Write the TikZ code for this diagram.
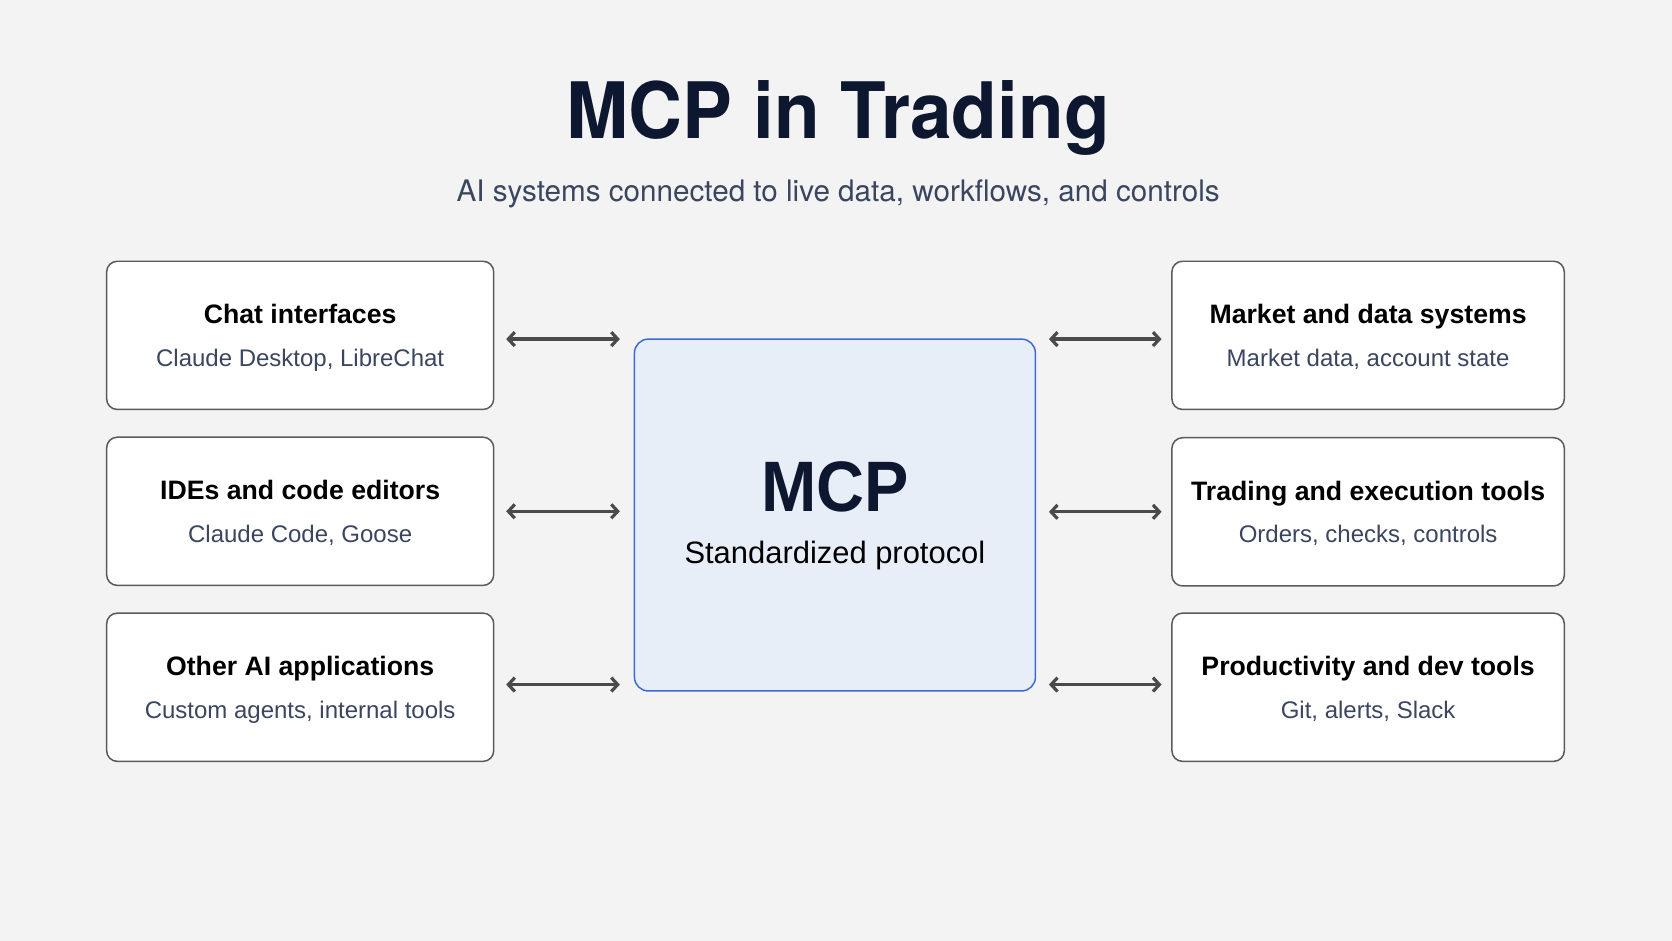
\documentclass[tikz,border=0pt]{standalone}
\usepackage{fontspec}
\setmainfont{Liberation Sans}
\newfontfamily\heros{TeX Gyre Heros}
\usetikzlibrary{arrows.meta}
\definecolor{bgc}{HTML}{F3F3F3}
\definecolor{navy}{HTML}{0E1730}
\definecolor{subc}{HTML}{3A4560}
\definecolor{edgec}{HTML}{5A5A5A}
\definecolor{arrc}{HTML}{4A4A4C}
\definecolor{mcpfill}{HTML}{E8EEF8}
\definecolor{mcpedge}{HTML}{3C6BD6}
\tikzset{
  sidebox/.style={draw=edgec, line width=1.4pt, fill=white, rounded corners=10pt, minimum height=139pt, inner sep=0pt},
  boxtitle/.style={anchor=base, text=black, font=\bfseries\fontsize{25}{30}\selectfont},
  boxsub/.style={anchor=base, text=subc, font=\fontsize{22.5}{27}\selectfont},
  arr/.style={draw=arrc, line width=3pt, {Straight Barb[length=6pt,width=13pt,line width=3pt]}-{Straight Barb[length=6pt,width=13pt,line width=3pt]}},
}
\begin{document}
\begin{tikzpicture}[x=1pt,y=-1pt]
\fill[bgc] (0,0) rectangle (1568,882);
\useasboundingbox (0,0) rectangle (1568,882);
\node[anchor=base, text=navy, xscale=0.96, font=\heros\bfseries\fontsize{73}{80}\selectfont] (title) at (786,130) {MCP in Trading};
\node[anchor=base, text=subc, font=\heros\fontsize{27.8}{32}\selectfont] (subtitle) at (786,189) {AI systems connected to live data, workflows, and controls};

% left boxes
\node[sidebox, minimum width=363pt] (l1) at (281.5,314.5) {};
\node[sidebox, minimum width=363pt] (l2) at (281.5,479.5) {};
\node[sidebox, minimum width=363pt] (l3) at (281.5,644.5) {};
% right boxes
\node[sidebox, minimum width=368pt] (r1) at (1283,314.5) {};
\node[sidebox, minimum width=368pt] (r2) at (1283,480) {};
\node[sidebox, minimum width=368pt] (r3) at (1283,644.5) {};
% centre
\node[draw=mcpedge, line width=1.4pt, fill=mcpfill, rounded corners=13pt, minimum width=376pt, minimum height=330pt, inner sep=0pt] (c) at (783,483) {};
\node[anchor=base, text=navy, xscale=0.93, font=\bfseries\fontsize{67}{72}\selectfont] (ct) at ([yshift=3pt]c.center) {MCP};
\node[anchor=base, text=black, font=\fontsize{29}{34}\selectfont] (cs) at ([yshift=-45pt]c.center) {Standardized protocol};

% texts
\node[boxtitle] (l1t) at ([yshift=11pt]l1.center) {Chat interfaces};
\node[boxsub] (l1s) at ([yshift=-29pt]l1.center) {Claude Desktop, LibreChat};
\node[boxtitle] (l2t) at ([yshift=11pt]l2.center) {IDEs and code editors};
\node[boxsub] (l2s) at ([yshift=-29pt]l2.center) {Claude Code, Goose};
\node[boxtitle] (l3t) at ([yshift=11pt]l3.center) {Other AI applications};
\node[boxsub] (l3s) at ([yshift=-29pt]l3.center) {Custom agents, internal tools};
\node[boxtitle] (r1t) at ([yshift=11pt]r1.center) {Market and data systems};
\node[boxsub] (r1s) at ([yshift=-29pt]r1.center) {Market data, account state};
\node[boxtitle] (r2t) at ([yshift=11pt]r2.center) {Trading and execution tools};
\node[boxsub] (r2s) at ([yshift=-29pt]r2.center) {Orders, checks, controls};
\node[boxtitle] (r3t) at ([yshift=11pt]r3.center) {Productivity and dev tools};
\node[boxsub] (r3s) at ([yshift=-29pt]r3.center) {Git, alerts, Slack};

% arrow anchor points
\coordinate (la1) at ([xshift=11pt,yshift=-3.5pt]l1.east);
\coordinate (la2) at ([xshift=11pt]l2.east);
\coordinate (la3) at ([xshift=11pt,yshift=2.5pt]l3.east);
\coordinate (ra1) at ([xshift=-9pt,yshift=-3.5pt]r1.west);
\coordinate (ra2) at ([xshift=-9pt]r2.west);
\coordinate (ra3) at ([xshift=-9pt,yshift=2.5pt]r3.west);
\coordinate (cw) at ([xshift=-13pt]c.west);
\coordinate (ce) at ([xshift=12pt]c.east);

% arrows
\draw[arr] (la1) -- (cw |- la1);
\draw[arr] (la2) -- (cw |- la2);
\draw[arr] (la3) -- (cw |- la3);
\draw[arr] (ce |- ra1) -- (ra1);
\draw[arr] (ce |- ra2) -- (ra2);
\draw[arr] (ce |- ra3) -- (ra3);
\end{tikzpicture}
\end{document}
